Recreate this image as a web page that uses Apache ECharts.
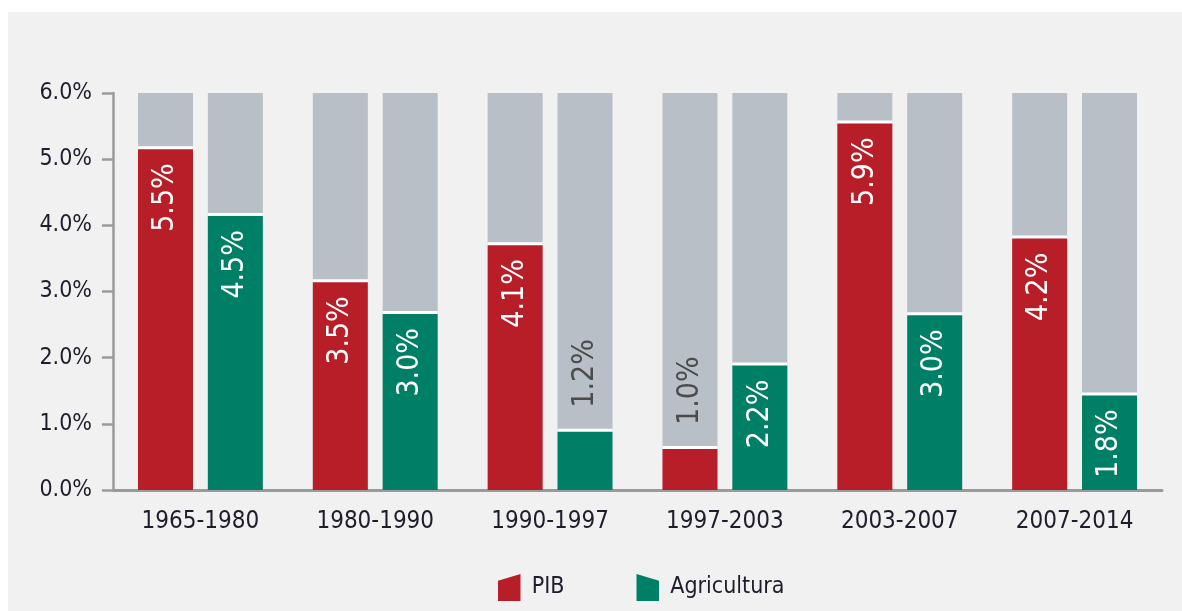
<!DOCTYPE html>
<html>
<head>
<meta charset="utf-8">
<script src="https://cdn.jsdelivr.net/npm/echarts@6/dist/echarts.min.js"></script>
<style>
  html, body { margin: 0; padding: 0; background: #ffffff; }
  #chart { position: absolute; left: 8px; top: 12px; width: 1174px; height: 599px; background: #f1f1f1; }
</style>
</head>
<body>
<div id="chart"></div>
<script>
// ---- data ----
const categories = ['1965-1980', '1980-1990', '1990-1997', '1997-2003', '2003-2007', '2007-2014'];
const pibValues  = [5.15, 3.14, 3.70, 0.62, 5.54, 3.80];
const agriValues = [4.14, 2.66, 0.88, 1.88, 2.64, 1.43];
const pibLabels  = ['5.5%', '3.5%', '4.1%', '1.0%', '5.9%', '4.2%'];
const agriLabels = ['4.5%', '3.0%', '1.2%', '2.2%', '3.0%', '1.8%'];
const yTicks = [0, 1, 2, 3, 4, 5, 6];

const FONT = "'DejaVu Sans Condensed', 'Liberation Sans', sans-serif";
const TEXT = '#1d1d2b';
const AXIS = '#9a9a9a';

function makeData(values, labels) {
  return values.map(function (v, i) {
    const inside = v >= 1.0;
    return {
      value: v,
      label: inside ? {
        position: 'insideTop', distance: 14, rotate: 90,
        align: 'right', verticalAlign: 'middle', color: '#ffffff',
        formatter: labels[i]
      } : {
        position: 'top', distance: 24, rotate: 90,
        align: 'left', verticalAlign: 'middle', color: '#4b4b4b',
        formatter: labels[i]
      }
    };
  });
}

function barSeries(name, color, values, labels) {
  return {
    name: name,
    type: 'bar',
    barWidth: 55,
    barGap: '27%',
    data: makeData(values, labels),
    showBackground: true,
    backgroundStyle: { color: '#b8bfc6' },
    itemStyle: { color: color, shadowColor: '#ffffff', shadowBlur: 0, shadowOffsetY: -3 },
    label: { show: true, fontFamily: FONT, fontSize: 30 },
    emphasis: { disabled: true }
  };
}

const chart = echarts.init(document.getElementById('chart'), null, { renderer: 'canvas' });
chart.setOption({
  animation: false,
  backgroundColor: '#f1f1f1',
  grid: { left: 105, right: 20, top: 81, bottom: 121, containLabel: false },
  legend: {
    left: 485, top: 557,
    itemWidth: 23, itemHeight: 27, itemGap: 72,
    textStyle: { fontFamily: FONT, fontSize: 23, color: TEXT, padding: [0, 0, 0, 6] },
    data: [
      { name: 'PIB', icon: 'path://M0,3 L10,0 L10,12 L0,12 Z' },
      { name: 'Agricultura', icon: 'path://M0,0 L10,3 L10,12 L0,12 Z' }
    ]
  },
  xAxis: {
    type: 'category',
    data: categories,
    axisLine: { lineStyle: { color: AXIS, width: 3 } },
    axisTick: { show: false },
    axisLabel: { fontFamily: FONT, fontSize: 24, color: TEXT, margin: 20 }
  },
  yAxis: {
    type: 'value',
    min: yTicks[0], max: yTicks[yTicks.length - 1], interval: 1,
    axisLine: { show: true, lineStyle: { color: AXIS, width: 2.5 } },
    axisTick: { show: true, length: 11, lineStyle: { color: AXIS, width: 2.5 } },
    splitLine: { show: false },
    axisLabel: { fontFamily: FONT, fontSize: 23, color: TEXT, margin: 21,
                 formatter: function (v) { return v.toFixed(1) + '%'; } }
  },
  series: [
    barSeries('PIB', '#b71e27', pibValues, pibLabels),
    barSeries('Agricultura', '#007f67', agriValues, agriLabels)
  ]
});
</script>
</body>
</html>
